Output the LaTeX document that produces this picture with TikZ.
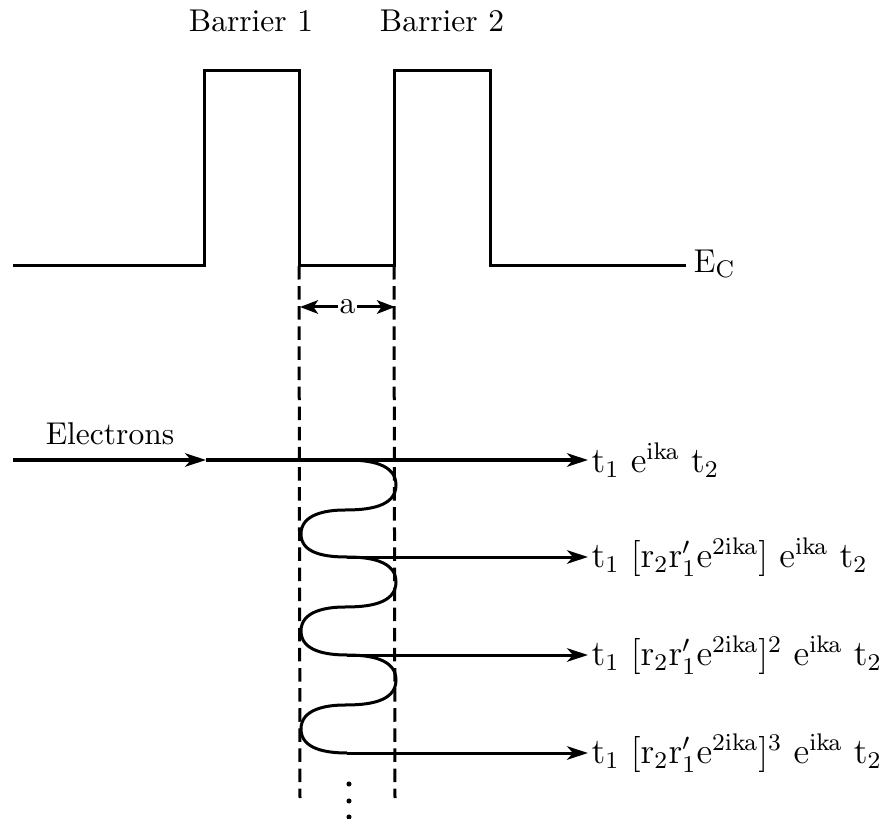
\documentclass[tikz,border=0pt]{standalone}
\usepackage{amsmath}
\usepackage{tikz}
\usetikzlibrary{positioning,calc,arrows.meta}

\begin{document}
\begin{tikzpicture}[x=0.3333pt, y=-0.3333pt, font=\fontsize{10.5pt}{13pt}\selectfont,
        band/.style={line width=1pt, line join=miter},
        guide/.style={line width=1pt, dash pattern=on 4.5pt off 2.2pt},
        ray/.style={line width=1pt, -{Stealth[length=7pt, width=4.5pt, inset=2pt]}},
        wave/.style={line width=1pt},
        lbl/.style={anchor=west, inner sep=1pt, font=\fontsize{11.5pt}{14pt}\selectfont}]
        \useasboundingbox (0,0) rectangle (881,819);
        % conduction band edge with the two barriers
        \coordinate (L) at (13,266);
        \coordinate (B1a) at (204,266);
        \coordinate (B1b) at (299,266);
        \coordinate (B2a) at (394,266);
        \coordinate (B2b) at (490,266);
        \coordinate (R) at (686,266);
        \draw[band] (L) -- (B1a) -- (204,71) -- (299,71) -- (B1b) -- (B2a)
            -- (394,71) -- (490,71) -- (B2b) -- (R);
        \node[anchor=base] (bar1) at (251,32) {Barrier 1};
        \node[anchor=base] (bar2) at (442,32) {Barrier 2};
        \node[anchor=west, inner sep=0pt, font=\fontsize{11pt}{13pt}\selectfont] (Ec) at (693,264) {E$_\mathrm{C}$};
        % well edges
        \coordinate (gL) at (300,798);
        \coordinate (gR) at (395,798);
        \draw[guide] (B1b) -- (gL);
        \draw[guide] (B2a) -- (gR);
        \coordinate (aL) at (300,307);
        \coordinate (aR) at (395,307);
        \draw[line width=1pt, {Stealth[length=6pt, width=4.5pt, inset=1.5pt]}-{Stealth[length=6pt, width=4.5pt, inset=1.5pt]}]
            (aL) -- node[fill=white, inner sep=0.5pt] (a) {a} (aR);
        % incoming electrons
        \coordinate (e0) at (13,460);
        \coordinate (em) at (206,460);
        \coordinate (p0) at (588,460);
        \node[anchor=base] (elec) at (110,445) {Electrons};
        \draw[ray] (e0) -- (em);
        \draw[ray] (em) -- (p0);
        \node[lbl] (t0) at (p0) {$\mathrm{t_1\ e^{ika}\ t_2}$};
        % multiple reflections inside the well
        \coordinate (w0) at (347,460);
        \coordinate (w1) at (347,557);
        \coordinate (w2) at (347,655);
        \coordinate (w3) at (347,753);
        \draw[wave] (w0) to[out=0,in=90] (396,485) to[out=-90,in=0] (345,510)
            to[out=180,in=90] (301,534) to[out=-90,in=180] (w1);
        \draw[wave] (w1) to[out=0,in=90] (396,582) to[out=-90,in=0] (345,607)
            to[out=180,in=90] (301,631) to[out=-90,in=180] (w2);
        \draw[wave] (w2) to[out=0,in=90] (396,680) to[out=-90,in=0] (345,705)
            to[out=180,in=90] (301,729) to[out=-90,in=180] (w3);
        \coordinate (p1) at (588,557);
        \coordinate (p2) at (588,655);
        \coordinate (p3) at (588,753);
        \draw[ray] (w1) -- (p1);
        \draw[ray] (w2) -- (p2);
        \draw[ray] (w3) -- (p3);
        \node[lbl] (t1) at (p1) {$\mathrm{t_1\ [r_2r'_1e^{2ika}]\ e^{ika}\ t_2}$};
        \node[lbl] (t2) at (p2) {$\mathrm{t_1\ [r_2r'_1e^{2ika}]^2\ e^{ika}\ t_2}$};
        \node[lbl] (t3) at (p3) {$\mathrm{t_1\ [r_2r'_1e^{2ika}]^3\ e^{ika}\ t_2}$};
        % more reflections follow
        \fill (349,784) circle (0.85pt) (349,801) circle (0.85pt) (349,817) circle (0.85pt);
    \end{tikzpicture}
\end{document}
